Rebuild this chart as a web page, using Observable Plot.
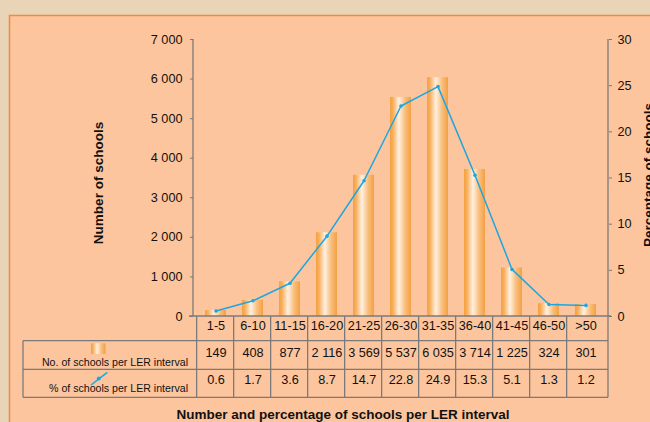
<!DOCTYPE html>
<html><head><meta charset="utf-8">
<script src="https://cdn.jsdelivr.net/npm/d3@7"></script>
<script src="https://cdn.jsdelivr.net/npm/@observablehq/plot@0.6"></script>
<style>
html,body{margin:0;padding:0;background:#E9D4B7;}
#chart{position:relative;width:650px;height:422px;overflow:hidden;}
svg{display:block;}
</style>
</head><body><div id="chart"></div>
<script>
// ---- data ----
const categories = ["1-5","6-10","11-15","16-20","21-25","26-30","31-35","36-40","41-45","46-50",">50"];
const counts = [149, 408, 877, 2116, 3569, 5537, 6035, 3714, 1225, 324, 301];
const percents = [0.6, 1.7, 3.6, 8.7, 14.7, 22.8, 24.9, 15.3, 5.1, 1.3, 1.2];
const countTicks = [0, 1000, 2000, 3000, 4000, 5000, 6000, 7000];
const percentTicks = [0, 5, 10, 15, 20, 25, 30];
const countMax = 7000, percentMax = 30;
const rowLabels = ["No. of schools per LER interval", "% of schools per LER interval"];
const leftTitle = "Number of schools";
const rightTitle = "Percentage of schools";
const caption = "Number and percentage of schools per LER interval";

const rows = categories.map((c, i) => ({cat: c, count: counts[i], pct: percents[i]}));
const locale = d3.formatLocale({decimal: ".", thousands: " ", grouping: [3], currency: ["", ""]});
const fmtCount = locale.format(",");
const fmtPct = d3.format(".1f");
const toCount = p => p * countMax / percentMax;

const FONT = "'Liberation Sans', Arial, sans-serif";
const AXIS = "#7a7a7a";
const LINE = "#1CA6E2";
const TXT = "#111";
const FS = 12.7;

const plot = Plot.plot({
  width: 650, height: 422,
  marginTop: 39, marginBottom: 106, marginLeft: 193, marginRight: 42,
  style: {background: "transparent", fontFamily: FONT, fontSize: FS + "px", color: TXT, overflow: "visible"},
  x: {type: "band", domain: categories, paddingInner: 0.42, paddingOuter: 0.21, axis: null},
  y: {domain: [0, countMax], axis: null},
  marks: [
    Plot.barY(rows, {x: "cat", y: "count", fill: "url(#barGrad)"}),
    Plot.axisY({anchor: "left", ticks: countTicks, tickFormat: fmtCount, tickSize: 3, tickPadding: 8,
      stroke: AXIS, fill: TXT, fontSize: FS, label: null}),
    Plot.axisY({anchor: "right", ticks: percentTicks.map(toCount),
      tickFormat: v => String(Math.round(v * percentMax / countMax)), tickSize: 3, tickPadding: 6,
      stroke: AXIS, fill: TXT, fontSize: FS, label: null}),
    Plot.line(rows, {x: "cat", y: d => toCount(d.pct), stroke: LINE, strokeWidth: 1.5}),
    Plot.dot(rows, {x: "cat", y: d => toCount(d.pct), r: 1.8, fill: LINE}),
    Plot.text(categories, {x: d => d, text: d => d, frameAnchor: "bottom", dy: 13, fill: TXT, fontSize: FS}),
    Plot.text(rows, {x: "cat", text: d => fmtCount(d.count), frameAnchor: "bottom", dy: 40, fill: TXT, fontSize: FS}),
    Plot.text(rows, {x: "cat", text: d => fmtPct(d.pct), frameAnchor: "bottom", dy: 67, fill: TXT, fontSize: FS})
  ]
});

document.getElementById("chart").appendChild(plot);

// ---- decoration: panel, gradient, axis lines, table, titles ----
const svg = d3.select(plot);
const defs = svg.insert("defs", ":first-child");
const g = defs.append("linearGradient").attr("id", "barGrad").attr("x1", 0).attr("x2", 1).attr("y1", 0).attr("y2", 0);
[[0, "#F5A040"], [0.14, "#F8AE5C"], [0.42, "#FFF0E0"], [0.72, "#F9BE7C"], [1, "#F4A042"]]
  .forEach(([o, c]) => g.append("stop").attr("offset", o).attr("stop-color", c));

svg.insert("rect", "defs + *")
  .attr("x", 9.5).attr("y", 15.5).attr("width", 700).attr("height", 500)
  .attr("fill", "#FDC59D").attr("stroke", "#F28A3C").attr("stroke-width", 1.5);

const xs = plot.scale("x"), ys = plot.scale("y");
const [xl, xr] = xs.range;
const y0 = ys.apply(0), yTop = ys.apply(countMax);
const step = (xr - xl) / categories.length;
const lines = svg.append("g").attr("stroke", AXIS).attr("stroke-width", 1.3).attr("fill", "none");
// axis lines
lines.append("line").attr("x1", xl).attr("x2", xl).attr("y1", yTop).attr("y2", y0);
lines.append("line").attr("x1", xr).attr("x2", xr).attr("y1", yTop).attr("y2", y0);
lines.append("line").attr("x1", xl - 4).attr("x2", xr + 3).attr("y1", y0).attr("y2", y0);
// data table grid
const rowY = [y0 + 24.7, y0 + 53.3, y0 + 81.3];
const tableLeft = 23;
categories.forEach(c => {
  const e = xs.apply(c) + xs.bandwidth / 2 - step / 2;
  lines.append("line").attr("x1", e).attr("x2", e).attr("y1", y0).attr("y2", rowY[2]);
});
lines.append("line").attr("x1", xr).attr("x2", xr).attr("y1", y0).attr("y2", rowY[2]);
rowY.forEach(y => lines.append("line").attr("x1", tableLeft).attr("x2", xr).attr("y1", y).attr("y2", y));
lines.append("line").attr("x1", tableLeft).attr("x2", tableLeft).attr("y1", rowY[0]).attr("y2", rowY[2]);

// row labels with legend keys
const lab = svg.append("g").attr("font-family", FONT).attr("font-size", 10.6).attr("fill", TXT).attr("text-anchor", "end");
lab.append("text").attr("x", xl - 5).attr("y", rowY[0] + 24.8).text(rowLabels[0]);
lab.append("text").attr("x", xl - 5).attr("y", rowY[1] + 22.8).text(rowLabels[1]);
svg.append("rect").attr("x", 91).attr("y", rowY[0] + 2.6).attr("width", 14.5).attr("height", 10.7).attr("fill", "url(#barGrad)");
svg.append("line").attr("x1", 91).attr("y1", rowY[1] + 15.7).attr("x2", 107.3).attr("y2", rowY[1] + 3)
  .attr("stroke", LINE).attr("stroke-width", 1.5);
svg.append("circle").attr("cx", 98.8).attr("cy", rowY[1] + 9.2).attr("r", 2).attr("fill", LINE);

// titles
const t = svg.append("g").attr("font-family", FONT).attr("font-weight", "bold").attr("font-size", 13.5).attr("fill", TXT);
t.append("text").attr("transform", "translate(103,183) rotate(-90)").attr("text-anchor", "middle").text(leftTitle);
t.append("text").attr("transform", "translate(652.5,247) rotate(-90)").attr("text-anchor", "start").text(rightTitle);
t.append("text").attr("x", 343).attr("y", 419).attr("text-anchor", "middle").text(caption);
</script>
</body></html>
